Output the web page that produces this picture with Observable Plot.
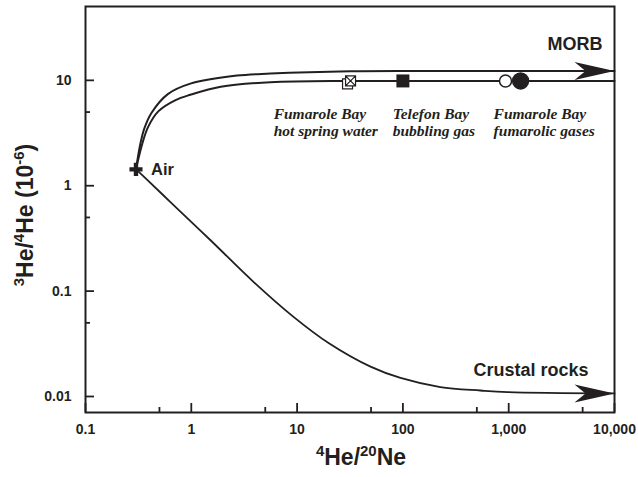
<!DOCTYPE html>
<html><head><meta charset="utf-8">
<script src="https://cdn.jsdelivr.net/npm/d3@7"></script>
<script src="https://cdn.jsdelivr.net/npm/@observablehq/plot@0.6"></script>
<style>body{margin:0;background:#fff} #chart{width:638px;height:477px}</style>
</head><body><div id="chart"></div>
<script>
// ---- data ----
const xMajorTicks = [0.1, 1, 10, 100, 1000, 10000];
const xTickLabels = ["0.1", "1", "10", "100", "1,000", "10,000"];
const xMinorTicks = [0.5, 5, 50, 500, 5000];
const yMajorTicks = [0.01, 0.1, 1, 10];
const yTickLabels = ["0.01", "0.1", "1", "10"];
const yMinorTicks = [0.05, 0.5, 5];

const airX = 0.30, airY = 1.43;

// upper mixing curve (air -> MORB)
const morbX = [0.30, 0.33, 0.36, 0.42, 0.60, 0.98, 2.7, 5.6, 32, 300, 10000];
const morbY = [1.43, 2.5, 3.5, 4.9, 7.4, 9.3, 11.1, 11.6, 12.2, 12.25, 12.25];
// lower mixing curve
const lowerX = [0.30, 0.34, 0.39, 0.49, 0.71, 0.98, 1.9, 5.6, 32, 300, 10000];
const lowerY = [1.43, 2.4, 3.6, 5.1, 6.5, 7.3, 8.7, 9.6, 9.87, 9.87, 9.87];
// air -> crustal rocks curve
const crustX = [0.30, 0.344, 0.635, 1.52, 3.87, 9.25, 20, 49.4, 94.9, 226, 541, 975, 10000];
const crustY = [1.43, 1.26, 0.70, 0.304, 0.1225, 0.057, 0.032, 0.0192, 0.015, 0.0123, 0.0114, 0.0110, 0.0107];

// samples
const hotSpringX = [32], hotSpringY = [9.87];
const telefonX = [100], telefonY = [9.87];
const fumOpenX = [933], fumOpenY = [9.87];
const fumFilledX = [1295], fumFilledY = [9.87];

// labels
const bigLabels = ["MORB", "Crustal rocks"];
const bigLabelX = [7700, 5680];
const bigLabelY = [21.9, 0.0178];
const sampleLabels = ["Fumarole Bay\nhot spring water", "Telefon Bay\nbubbling gas", "Fumarole Bay\nfumarolic gases"];
const sampleLabelX = [6.0, 80, 720];
const sampleLabelY = [4.05, 4.05, 4.05];

// ---- build ----
const ink = "#231f20";
const xSquare = {draw(ctx, size) {
  const w = Math.sqrt(size) / 2;
  ctx.moveTo(-w, -w); ctx.lineTo(w, -w); ctx.lineTo(w, w); ctx.lineTo(-w, w); ctx.closePath();
  ctx.moveTo(-w, -w); ctx.lineTo(w, w); ctx.moveTo(w, -w); ctx.lineTo(-w, w);
}};
const arrowHead = {draw(ctx) {
  ctx.moveTo(0, 0); ctx.lineTo(-40, -9); ctx.lineTo(-29, 0); ctx.lineTo(-40, 9); ctx.closePath();
}};

const pts = (xs, ys) => xs.map((x, i) => ({x, y: ys[i]}));
const ends = [{x: morbX[morbX.length-1], y: morbY[morbY.length-1]}, {x: crustX[crustX.length-1], y: crustY[crustY.length-1]}];
const xLabelOf = d => xTickLabels[xMajorTicks.findIndex(v => Math.abs(v - d) / v < 1e-6)];
const yLabelOf = d => yTickLabels[yMajorTicks.findIndex(v => Math.abs(v - d) / v < 1e-6)];

const plot = Plot.plot({
  width: 638, height: 477,
  marginLeft: 85, marginRight: 24, marginTop: 6, marginBottom: 65,
  x: {type: "log", domain: [0.1, 10000]},
  y: {type: "log", domain: [0.00705, 50.2]},
  style: {fontFamily: "'Liberation Sans', Arial, sans-serif", background: "white", color: ink},
  marks: [
    Plot.axisX({ticks: xMajorTicks, tickSize: 9, dy: -9, tickFormat: () => "", strokeWidth: 1.8, stroke: ink, label: null}),
    Plot.axisX({ticks: xMinorTicks, tickSize: 5, dy: -5, tickFormat: () => "", strokeWidth: 1.8, stroke: ink, label: null}),
    Plot.axisX({ticks: xMajorTicks, tickSize: 0, tickPadding: 12, tickFormat: xLabelOf, fontSize: 14, fontWeight: "bold", fill: ink, label: null}),
    Plot.axisY({ticks: yMajorTicks, tickSize: 9, dx: 9, tickFormat: () => "", strokeWidth: 1.8, stroke: ink, label: null}),
    Plot.axisY({ticks: yMinorTicks, tickSize: 5, dx: 5, tickFormat: () => "", strokeWidth: 1.8, stroke: ink, label: null}),
    Plot.axisY({ticks: yMajorTicks, tickSize: 0, tickPadding: 14, tickFormat: yLabelOf, fontSize: 14, fontWeight: "bold", fill: ink, label: null}),
    Plot.frame({stroke: ink, strokeWidth: 2}),
    Plot.line(pts(morbX, morbY), {x: "x", y: "y", curve: "catmull-rom", stroke: ink, strokeWidth: 2}),
    Plot.line(pts(lowerX, lowerY), {x: "x", y: "y", curve: "catmull-rom", stroke: ink, strokeWidth: 2}),
    Plot.line(pts(crustX, crustY), {x: "x", y: "y", curve: "catmull-rom", stroke: ink, strokeWidth: 1.8}),
    Plot.dot(ends, {x: "x", y: "y", symbol: arrowHead, fill: ink, stroke: "none"}),
    Plot.dot([{x: airX, y: airY}], {x: "x", y: "y", symbol: "cross", r: 5.5, fill: ink, stroke: "none"}),
    Plot.text([{x: airX, y: airY}], {x: "x", y: "y", text: () => "Air", dx: 15, textAnchor: "start", fontSize: 16.5, fontWeight: "bold", fill: ink}),
    // samples
    Plot.dot(pts(hotSpringX, hotSpringY), {x: "x", y: "y", symbol: "square", r: 5.64, dx: -3, dy: 3, fill: "white", stroke: ink, strokeWidth: 1.2}),
    Plot.dot(pts(hotSpringX, hotSpringY), {x: "x", y: "y", symbol: xSquare, r: 5.64, fill: "white", stroke: ink, strokeWidth: 1.2}),
    Plot.dot(pts(telefonX, telefonY), {x: "x", y: "y", symbol: "square", r: 7.33, fill: ink, stroke: "none"}),
    Plot.dot(pts(fumOpenX, fumOpenY), {x: "x", y: "y", r: 6, fill: "white", stroke: ink, strokeWidth: 1.5}),
    Plot.dot(pts(fumFilledX, fumFilledY), {x: "x", y: "y", r: 8.7, fill: ink, stroke: "none"}),
    // labels
    Plot.text(bigLabels, {x: (d, i) => bigLabelX[i], y: (d, i) => bigLabelY[i], text: d => d, textAnchor: "end", fontSize: 18, fontWeight: "bold", fill: ink}),
    Plot.text(sampleLabels, {x: (d, i) => sampleLabelX[i], y: (d, i) => sampleLabelY[i], text: d => d, textAnchor: "start", lineHeight: 1.15, fontSize: 15.5, fontWeight: "bold", fontStyle: "italic", fontFamily: "'Liberation Serif', 'Times New Roman', serif", fill: ink})
  ]
});
document.getElementById("chart").appendChild(plot);

// axis titles with superscripts
const svg = d3.select(plot);
function richText(sel, parts, size) {
  const t = sel.append("text").attr("text-anchor", "middle").attr("font-size", size).attr("font-weight", "bold")
    .attr("font-family", "'Liberation Sans', Arial, sans-serif").attr("fill", ink);
  let shift = 0;
  for (const [s, sup] of parts) {
    const target = sup ? -Math.round(size * 0.38) : 0;
    t.append("tspan").attr("dy", target - shift).attr("font-size", sup ? Math.round(size * 0.65) : size).text(s);
    shift = target;
  }
  return t;
}
richText(svg, [["4", true], ["He/", false], ["20", true], ["Ne", false]], 23)
  .attr("transform", "translate(361,465)");
richText(svg, [["3", true], ["He/", false], ["4", true], ["He (10", false], ["-6", true], [")", false]], 23)
  .attr("transform", "translate(33,215) rotate(-90)");
</script>
</body></html>
